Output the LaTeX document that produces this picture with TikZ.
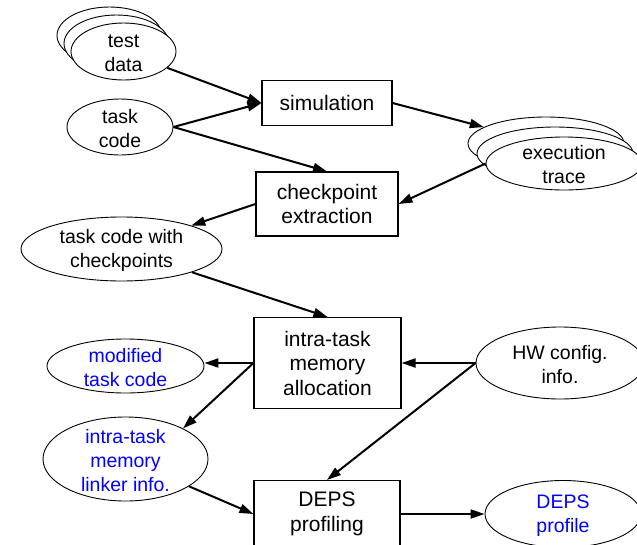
\documentclass[tikz,border=0pt]{standalone}
\usepackage{fontspec}
\setmainfont{Liberation Sans}
\usetikzlibrary{shapes.geometric,arrows.meta}
\newcommand\bxfont{\fontsize{21pt}{24.5pt}\selectfont}
\newcommand\elfont{\fontsize{19.5pt}{24pt}\selectfont}
\tikzset{
  ell/.style={ellipse, draw, fill=white, line width=0.9pt, inner sep=0pt},
  stackell/.style={ellipse, draw, fill=white, line width=0.9pt, inner sep=0pt},
  bx/.style={rectangle, draw, fill=white, line width=1.1pt, inner sep=0pt, align=center, font=\bxfont},
  txt/.style={align=center, font=\elfont, inner sep=0pt, yshift=-1.5pt},
  btxt/.style={txt, text=blue},
  arr/.style={line width=2pt, -{Triangle[length=14pt,width=9pt]}},
}
\begin{document}
\begin{tikzpicture}[x=1pt,y=-1pt]
\useasboundingbox (0,0) rectangle (637,544);
\clip (0,0) rectangle (637,544);
% test data stack
\node[stackell, minimum width=105pt, minimum height=57pt] (td1) at (109.5,35.5) {};
\node[stackell, minimum width=105pt, minimum height=57pt] (td2) at (116.5,43.5) {};
\node[ell, minimum width=105pt, minimum height=57pt, label={[txt]center:{test\\data}}] (td) at (123.5,51.5) {};
% task code
\node[ell, minimum width=106pt, minimum height=56pt, label={[txt]center:{task\\code}}] (tc) at (120,127) {};
% simulation
\node[bx, minimum width=130pt, minimum height=45pt] (sim) at (327,103) {simulation};
% execution trace stack
\node[stackell, minimum width=156pt, minimum height=53pt] (et1) at (546,143.5) {};
\node[stackell, minimum width=156pt, minimum height=53pt] (et2) at (555,153.5) {};
\node[ell, minimum width=156pt, minimum height=53pt, label={[txt]center:{execution\\trace}}] (et3) at (564,163.5) {};
% checkpoint extraction
\node[bx, minimum width=142pt, minimum height=64pt] (cp) at (327,204) {checkpoint\\extraction};
% task code with checkpoints
\node[ell, minimum width=201pt, minimum height=64pt, label={[txt]center:{task code with\\checkpoints}}] (tcw) at (121.5,249) {};
% intra-task memory allocation
\node[bx, minimum width=147pt, minimum height=91pt] (ima) at (327.5,363) {intra-task\\memory\\allocation};
% modified task code
\node[ell, minimum width=157pt, minimum height=54pt, label={[btxt]center:{modified\\task code}}] (mtc) at (125.5,366) {};
% HW config info
\node[ell, minimum width=168pt, minimum height=72pt, label={[txt]center:{HW config.\\info.}}] (hw) at (560,363) {};
% intra-task memory linker info
\node[ell, minimum width=165pt, minimum height=84pt, label={[btxt]center:{intra-task\\memory\\linker info.}}] (lmi) at (125.5,459) {};
% DEPS profiling
\node[bx, minimum width=146pt, minimum height=67pt] (dp) at (327,514) {DEPS\\profiling};
% DEPS profile
\node[ell, minimum width=156pt, minimum height=67pt, label={[btxt]center:{DEPS\\profile}}] (dprof) at (563,514) {};
% connectors
\draw[arr] (td) -- (sim.west);
\draw[arr] (tc.east) -- (sim.west);
\draw[arr] (tc.east) -- (cp.north);
\draw[arr] (sim.east) -- (et1);
\draw[arr] (et3.west) -- (cp.east);
\draw[arr] (cp.west) -- (tcw);
\draw[arr] (tcw) -- (ima.north);
\draw[arr] (ima.west) -- (ima.west -| mtc.east);
\draw[arr] (ima.west) -- (lmi.28);
\draw[arr] (hw.west) -- (ima.east);
\draw[arr] (hw.west) -- (dp.north);
\draw[arr] (lmi) -- (dp.west);
\draw[arr] (dp.east) -- (dprof);
\end{tikzpicture}
\end{document}
